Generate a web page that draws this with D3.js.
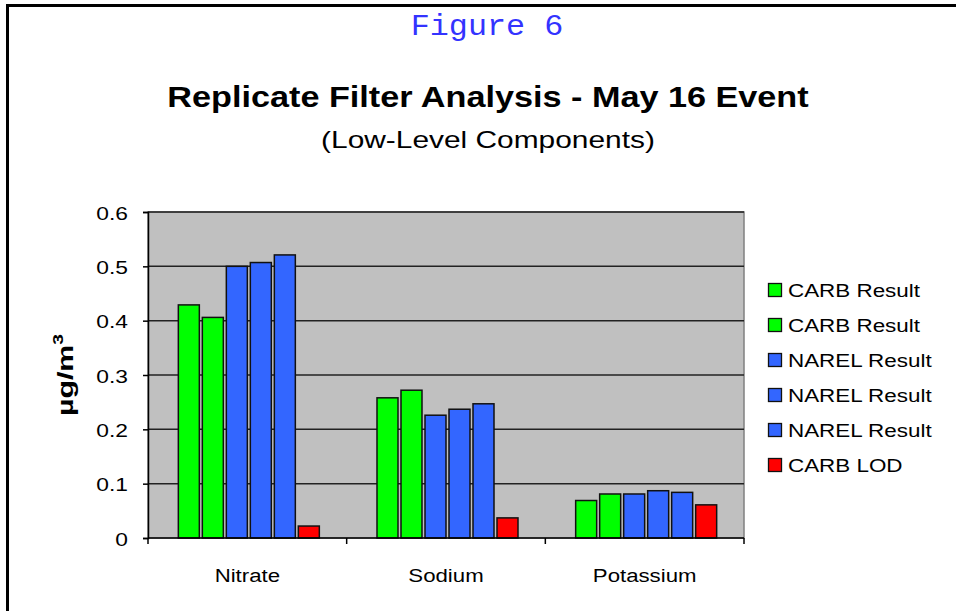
<!DOCTYPE html>
<html>
<head>
<meta charset="utf-8">
<script src="https://cdn.jsdelivr.net/npm/d3@7"></script>
<style>
  html, body { margin: 0; padding: 0; background: #fff; }
  svg { display: block; }
  text { font-family: "Liberation Sans", Arial, sans-serif; }
</style>
</head>
<body>
<svg id="chart" width="956" height="611"></svg>
<script>
// ---- data ----
const categories = ["Nitrate", "Sodium", "Potassium"];
const seriesNames = ["CARB Result", "CARB Result", "NAREL Result", "NAREL Result", "NAREL Result", "CARB LOD"];
const seriesColors = ["#00ff00", "#00ff00", "#3366ff", "#3366ff", "#3366ff", "#ff0000"];
const carbResult1 = [0.429, 0.258, 0.069];
const carbResult2 = [0.406, 0.272, 0.081];
const narelResult1 = [0.500, 0.226, 0.081];
const narelResult2 = [0.507, 0.237, 0.087];
const narelResult3 = [0.521, 0.247, 0.084];
const carbLOD = [0.022, 0.037, 0.061];
const yTicks = [0, 0.1, 0.2, 0.3, 0.4, 0.5, 0.6];

const seriesValues = [carbResult1, carbResult2, narelResult1, narelResult2, narelResult3, carbLOD];

// ---- layout ----
const svg = d3.select("#chart");
const W = 956, H = 611;
const plot = { left: 148, right: 744, top: 212, bottom: 538 };
const SX = 1.25; // horizontal stretch of text as in the original rendering

// page frame
svg.append("rect").attr("x", 0).attr("y", 0).attr("width", W).attr("height", H).attr("fill", "#fff");
svg.append("line").attr("x1", 6).attr("x2", W).attr("y1", 5.5).attr("y2", 5.5)
  .attr("stroke", "#000").attr("stroke-width", 3);
svg.append("line").attr("x1", 7.5).attr("x2", 7.5).attr("y1", 4).attr("y2", H)
  .attr("stroke", "#000").attr("stroke-width", 3);

function stretchedText(g, x, y, txt, opts) {
  const t = g.append("text")
    .attr("transform", `translate(${x},${y}) scale(${opts.sx || SX},1)`)
    .attr("text-anchor", opts.anchor || "middle")
    .attr("font-size", opts.size)
    .attr("font-weight", opts.weight || "normal")
    .attr("fill", opts.fill || "#000")
    .text(txt);
  if (opts.family) t.style("font-family", opts.family);
  return t;
}

// Figure label
stretchedText(svg, 487, 35, "Figure 6", { size: 30, family: "'Liberation Mono', 'Courier New', monospace", fill: "#3333ff", sx: 1.06 });

// Titles
stretchedText(svg, 488, 107, "Replicate Filter Analysis - May 16 Event", { size: 29, weight: "bold", sx: 1.18 });
stretchedText(svg, 488, 148, "(Low-Level Components)", { size: 23, sx: 1.3 });

// scales
const y = d3.scaleLinear().domain([0, 0.6]).range([plot.bottom, plot.top]);
const x0 = d3.scaleBand().domain(categories).range([plot.left, plot.right]).padding(0);
const clusterW = 141;
const x1 = d3.scaleBand().domain(d3.range(seriesNames.length))
  .range([(x0.bandwidth() - clusterW) / 2 + 1.5, (x0.bandwidth() - clusterW) / 2 + 1.5 + clusterW])
  .paddingInner(0.125).paddingOuter(0);

// plot background
svg.append("rect").attr("x", plot.left).attr("y", plot.top)
  .attr("width", plot.right - plot.left).attr("height", plot.bottom - plot.top)
  .attr("fill", "#c0c0c0").attr("stroke", "#808080").attr("stroke-width", 1.5);

// gridlines
svg.append("g").selectAll("line").data(yTicks.filter(d => d > 0)).join("line")
  .attr("x1", plot.left).attr("x2", plot.right)
  .attr("y1", d => y(d)).attr("y2", d => y(d))
  .attr("stroke", "#222").attr("stroke-width", 1.5);

// bars
const groups = svg.append("g").selectAll("g").data(categories).join("g")
  .attr("transform", c => `translate(${x0(c)},0)`);
groups.selectAll("rect")
  .data((c, ci) => seriesValues.map((vals, si) => ({ si, v: vals[ci] })))
  .join("rect")
  .attr("x", d => x1(d.si))
  .attr("width", x1.bandwidth())
  .attr("y", d => y(d.v))
  .attr("height", d => y(0) - y(d.v))
  .attr("fill", d => seriesColors[d.si])
  .attr("stroke", "#111").attr("stroke-width", 1.5);

// y axis
const yAxis = svg.append("g").attr("transform", `translate(${plot.left},0)`)
  .call(d3.axisLeft(y).tickValues(yTicks).tickSize(5).tickPadding(0));
yAxis.select(".domain").attr("stroke", "#000").attr("stroke-width", 1.5);
yAxis.selectAll(".tick line").attr("stroke", "#000").attr("stroke-width", 1.5);
yAxis.selectAll(".tick text").remove();
yAxis.selectAll(".tick").each(function (d) {
  stretchedText(d3.select(this), -20, 7, d === 0 ? "0" : d3.format(".1f")(d), { size: 19, anchor: "end", sx: 1.2 });
});

// x axis
const xAxis = svg.append("g").attr("transform", `translate(0,${plot.bottom})`);
xAxis.append("line").attr("x1", plot.left).attr("x2", plot.right).attr("y1", 0).attr("y2", 0)
  .attr("stroke", "#000").attr("stroke-width", 1.5);
const boundaries = categories.map(c => x0(c)).concat([plot.right]);
xAxis.selectAll(".bt").data(boundaries).join("line").attr("class", "bt")
  .attr("x1", d => d).attr("x2", d => d).attr("y1", 0).attr("y2", 6)
  .attr("stroke", "#000").attr("stroke-width", 1.5);
categories.forEach(c => {
  stretchedText(xAxis, x0(c) + x0.bandwidth() / 2, 44, c, { size: 19, sx: 1.17 });
});

// y title
const yt = svg.append("text")
  .attr("transform", `translate(73,375) rotate(-90) scale(1.38,1)`)
  .attr("text-anchor", "middle")
  .attr("font-size", 22).attr("font-weight", "bold");
yt.append("tspan").text("µg/m");
yt.append("tspan").attr("font-size", 14).attr("dy", -10).text("3");

// legend
const legend = svg.append("g").attr("transform", "translate(768,290)");
const li = legend.selectAll("g").data(seriesNames).join("g")
  .attr("transform", (d, i) => `translate(0,${i * 35})`);
li.append("rect").attr("x", 0.5).attr("y", -6.5).attr("width", 13).attr("height", 13)
  .attr("fill", (d, i) => seriesColors[i]).attr("stroke", "#111").attr("stroke-width", 1.3);
li.each(function (d) {
  stretchedText(d3.select(this), 20, 7, d, { size: 19, anchor: "start", sx: 1.18 });
});
</script>
</body>
</html>
